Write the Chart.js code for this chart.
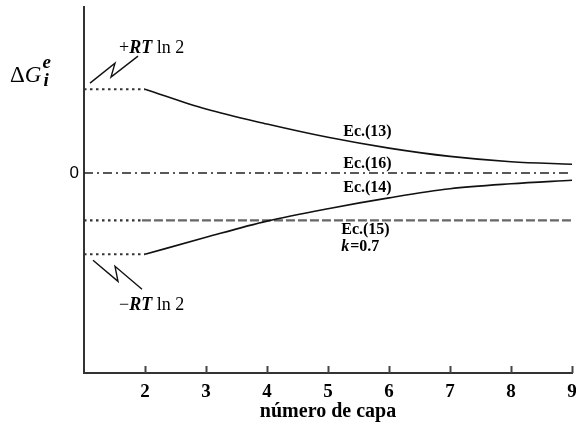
<!DOCTYPE html>
<html>
<head>
<meta charset="utf-8">
<script src="https://cdn.jsdelivr.net/npm/chart.js@4"></script>
<style>
  html, body { margin: 0; padding: 0; background: #fff; }
  #wrap { width: 576px; height: 432px; }
</style>
</head>
<body>
<div id="wrap"><canvas id="chart" width="576" height="432"></canvas></div>
<script>
// layer numbers and values (units of RT ln 2)
const capas = [2, 3, 4, 5, 6, 7, 8, 9];
const ec13 = [1.01, 0.77, 0.59, 0.43, 0.30, 0.20, 0.136, 0.105];
const ec14 = [-0.98, -0.775, -0.58, -0.43, -0.30, -0.19, -0.13, -0.088];
const ec15Level = -0.57;
const ec16Level = 0;
const xTickLabels = ['2', '3', '4', '5', '6', '7', '8', '9'];

const serif = "'Liberation Serif', 'DejaVu Serif', serif";

function pts(xs, ys) {
    return xs.map((x, i) => ({ x: x, y: ys[i] }));
}

// extra drawing: labels, inward ticks, zigzag pointers
const extras = {
    id: 'extras',
    afterDraw(chart) {
        const ctx = chart.ctx;
        const xs = chart.scales.x;
        const ys = chart.scales.y;
        const area = chart.chartArea;
        ctx.save();

        // tick marks pointing inward
        ctx.strokeStyle = '#444';
        ctx.lineWidth = 2;
        capas.forEach(v => {
            const px = Math.round(xs.getPixelForValue(v)) + 0.5;
            ctx.beginPath();
            ctx.moveTo(px, area.bottom);
            ctx.lineTo(px, area.bottom - 7);
            ctx.stroke();
        });

        // curve labels
        ctx.fillStyle = '#000';
        ctx.textBaseline = 'middle';
        ctx.font = 'bold 16px ' + serif;
        const lx = xs.getPixelForValue(5.25);
        ctx.fillText('Ec.(13)', lx, ys.getPixelForValue(0.50));
        ctx.fillText('Ec.(16)', lx, ys.getPixelForValue(0.115));
        ctx.fillText('Ec.(14)', lx, ys.getPixelForValue(-0.18));
        ctx.fillText('Ec.(15)', lx - 2, ys.getPixelForValue(-0.69));
        const ky = ys.getPixelForValue(-0.89);
        ctx.font = 'bold italic 16px ' + serif;
        ctx.fillText('k', lx - 2, ky);
        let kw = ctx.measureText('k').width;
        ctx.font = 'bold 16px ' + serif;
        ctx.fillText('=0.7', lx - 2 + kw + 1, ky);

        // y axis label  ΔG_i^e
        ctx.textBaseline = 'alphabetic';
        ctx.font = '23px ' + serif;
        ctx.fillText('\u0394', 10, 82);
        let w = ctx.measureText('\u0394').width;
        ctx.font = 'italic 23px ' + serif;
        ctx.fillText('G', 10 + w, 82);
        w += ctx.measureText('G').width;
        ctx.font = 'bold italic 19px ' + serif;
        ctx.fillText('e', 10 + w + 1, 68);
        ctx.fillText('i', 10 + w + 2, 86);

        // +RT ln 2 / -RT ln 2 annotations
        function rtLabel(sign, x, y) {
            ctx.font = '18px ' + serif;
            ctx.fillText(sign, x, y);
            let ww = ctx.measureText(sign).width;
            ctx.font = 'bold italic 18px ' + serif;
            ctx.fillText('RT', x + ww, y);
            ww += ctx.measureText('RT').width;
            ctx.font = '18px ' + serif;
            ctx.fillText(' ln 2', x + ww, y);
        }
        const x0 = xs.getPixelForValue(1);
        const yTop = ys.getPixelForValue(ec13[0]);
        const yBot = ys.getPixelForValue(ec14[0]);
        rtLabel('+', x0 + 35, yTop - 36);
        rtLabel('\u2212', x0 + 35, yBot + 56);

        ctx.strokeStyle = '#111';
        ctx.lineWidth = 1.4;
        ctx.beginPath();
        ctx.moveTo(x0 + 6, yTop - 6);
        ctx.lineTo(x0 + 31, yTop - 26);
        ctx.lineTo(x0 + 27, yTop - 12);
        ctx.lineTo(x0 + 54, yTop - 33);
        ctx.stroke();
        ctx.beginPath();
        ctx.moveTo(x0 + 9, yBot + 6);
        ctx.lineTo(x0 + 34, yBot + 27);
        ctx.lineTo(x0 + 31, yBot + 12);
        ctx.lineTo(x0 + 58, yBot + 35);
        ctx.stroke();

        ctx.restore();
    }
};

const dotted = [2.5, 3.5];

function noPad(scale) {
    scale.paddingTop = 0;
    scale.paddingBottom = 0;
    scale.paddingLeft = 0;
    scale.paddingRight = 0;
}

new Chart(document.getElementById('chart'), {
    type: 'line',
    data: {
        datasets: [
            {
                label: 'Ec.(13)',
                data: pts(capas, ec13),
                borderColor: '#111',
                borderWidth: 1.6,
                cubicInterpolationMode: 'monotone'
            },
            {
                label: 'Ec.(14)',
                data: pts(capas, ec14),
                borderColor: '#111',
                borderWidth: 1.6,
                cubicInterpolationMode: 'monotone'
            },
            {
                label: 'Ec.(16)',
                data: [{ x: 1, y: ec16Level }, { x: 9, y: ec16Level }],
                borderColor: '#222',
                borderWidth: 1.3,
                borderDash: [9, 4, 2, 4]
            },
            {
                label: 'Ec.(15)',
                data: [{ x: 1, y: ec15Level }, { x: 1.95, y: ec15Level }, { x: 9, y: ec15Level }],
                borderColor: '#666',
                borderWidth: 2.2,
                segment: {
                    borderDash: c => c.p0.parsed.x < 1.9 ? dotted : [9, 3],
                    borderColor: c => c.p0.parsed.x < 1.9 ? '#333' : '#666'
                }
            },
            {
                label: 'top dots',
                data: [{ x: 1, y: ec13[0] }, { x: 2, y: ec13[0] }],
                borderColor: '#333',
                borderWidth: 2,
                borderDash: dotted
            },
            {
                label: 'bottom dots',
                data: [{ x: 1, y: ec14[0] }, { x: 2, y: ec14[0] }],
                borderColor: '#333',
                borderWidth: 2,
                borderDash: dotted
            }
        ]
    },
    options: {
        responsive: false,
        animation: false,
        events: [],
        elements: { point: { radius: 0 } },
        layout: { padding: { left: 0, top: 7, right: 4, bottom: 0 } },
        plugins: {
            legend: { display: false },
            tooltip: { enabled: false }
        },
        scales: {
            x: {
                type: 'linear',
                min: 1,
                max: 9,
                grid: { display: false, drawTicks: false },
                border: { display: true, color: '#333', width: 2 },
                afterBuildTicks: scale => {
                    scale.ticks = capas.map(v => ({ value: v }));
                },
                afterFit: scale => { scale.height = 59; noPad(scale); },
                ticks: {
                    padding: 8,
                    color: '#000',
                    font: { family: serif, size: 19, weight: 'bold' },
                    callback: (v, i) => xTickLabels[i]
                },
                title: {
                    display: true,
                    text: 'número de capa',
                    color: '#000',
                    font: { family: serif, size: 20, weight: 'bold' },
                    padding: { top: 0, bottom: 8 }
                }
            },
            y: {
                type: 'linear',
                min: -2.41,
                max: 2.0,
                grid: { display: false, drawTicks: false },
                border: { display: true, color: '#333', width: 2 },
                afterBuildTicks: scale => {
                    scale.ticks = [{ value: 0 }];
                },
                afterFit: scale => { scale.width = 84; noPad(scale); },
                ticks: {
                    padding: 5,
                    color: '#000',
                    font: { family: "'Liberation Sans', Arial, sans-serif", size: 17 },
                    callback: v => String(v)
                }
            }
        }
    },
    plugins: [extras]
});
</script>
</body>
</html>
